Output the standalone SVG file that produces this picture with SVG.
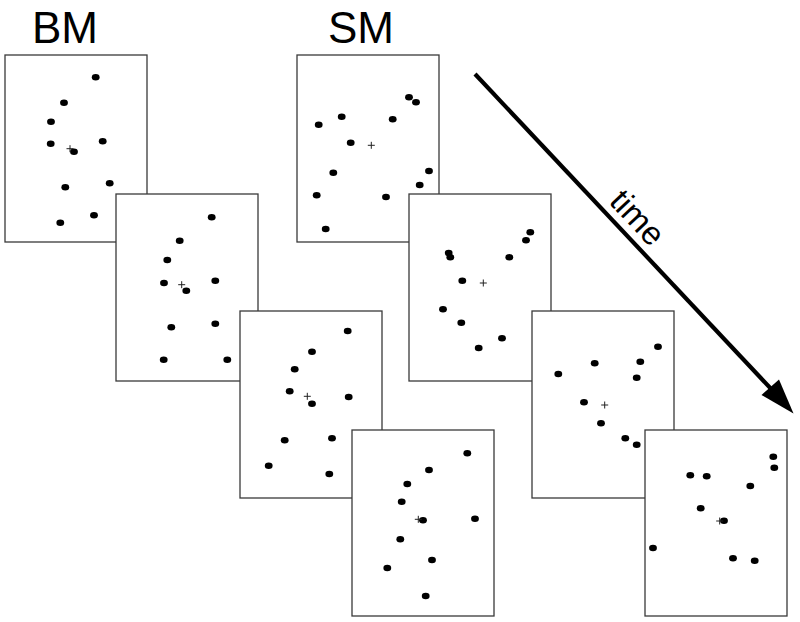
<svg xmlns="http://www.w3.org/2000/svg" width="800" height="622" viewBox="0 0 800 622">
<defs>
<style>
.frame{fill:#fff;stroke:#3a3a3a;stroke-width:1.3}
.dot{fill:#000}
.fix{stroke:#222;stroke-width:1;fill:none}
.lbl{font-family:"Liberation Sans",Arial,sans-serif;font-size:44px;fill:#000}
.time{font-family:"Liberation Sans",Arial,sans-serif;font-size:33px;fill:#000}
</style>
<ellipse id="d" class="dot" cx="0" cy="0" rx="3.9" ry="3.2"/>
<path id="c" class="fix" d="M-3.5 0H3.5M0 -3.5V3.5"/>
</defs>
<rect width="800" height="622" fill="#fff"/>
<text class="lbl" x="32" y="43">BM</text>
<text class="lbl" x="328" y="43">SM</text>

<g id="bm1">
<rect class="frame" x="5" y="55" width="142" height="187"/>
<use href="#d" x="95.7" y="77.3"/><use href="#d" x="64" y="102.7"/><use href="#d" x="51" y="121.7"/>
<use href="#d" x="50.7" y="143.7"/><use href="#d" x="102.7" y="141.3"/><use href="#d" x="74" y="151.7"/>
<use href="#c" x="70" y="148.7"/>
<use href="#d" x="65.3" y="187.3"/><use href="#d" x="109.7" y="183.3"/><use href="#d" x="94" y="215.3"/>
<use href="#d" x="60.3" y="222.7"/>
</g>
<g id="bm2">
<rect class="frame" x="116" y="194" width="142" height="187"/>
<use href="#d" x="211.7" y="217.3"/><use href="#d" x="179.7" y="240.7"/><use href="#d" x="167.3" y="260"/>
<use href="#d" x="164" y="283"/><use href="#d" x="215.3" y="280.7"/><use href="#d" x="186.3" y="290.7"/>
<use href="#c" x="181.7" y="284.7"/>
<use href="#d" x="171.3" y="327.3"/><use href="#d" x="215.3" y="323.7"/><use href="#d" x="163.7" y="359.7"/>
<use href="#d" x="227.3" y="359.7"/>
</g>
<g id="bm3">
<rect class="frame" x="240" y="311" width="142" height="187"/>
<use href="#d" x="347.7" y="331"/><use href="#d" x="312" y="351.7"/><use href="#d" x="294.7" y="369.3"/>
<use href="#d" x="289.7" y="391.3"/><use href="#d" x="348.7" y="397"/><use href="#d" x="312" y="403.7"/>
<use href="#c" x="307.3" y="396.3"/>
<use href="#d" x="284.7" y="440.3"/><use href="#d" x="332" y="438.3"/><use href="#d" x="268.7" y="465.7"/>
<use href="#d" x="329.3" y="474"/>
</g>
<g id="bm4">
<rect class="frame" x="352" y="430" width="142" height="186"/>
<use href="#d" x="467.3" y="453.3"/><use href="#d" x="429" y="470"/><use href="#d" x="407.3" y="484"/>
<use href="#d" x="401.7" y="501.7"/><use href="#d" x="475" y="518.7"/><use href="#d" x="423" y="520.3"/>
<use href="#c" x="418.3" y="519.3"/>
<use href="#d" x="400.3" y="539.3"/><use href="#d" x="432" y="560"/><use href="#d" x="387.3" y="568"/>
<use href="#d" x="425.7" y="596"/>
</g>

<g id="sm1">
<rect class="frame" x="297" y="55" width="142" height="187"/>
<use href="#d" x="409" y="97.3"/><use href="#d" x="416" y="102.3"/><use href="#d" x="341.7" y="116.7"/>
<use href="#d" x="318.7" y="124.7"/><use href="#d" x="392.7" y="119.3"/><use href="#d" x="350.7" y="142.7"/>
<use href="#c" x="371.3" y="145.3"/>
<use href="#d" x="333.3" y="172.7"/><use href="#d" x="429" y="171"/><use href="#d" x="419.7" y="185"/>
<use href="#d" x="316.7" y="195.3"/><use href="#d" x="386" y="197"/><use href="#d" x="325.7" y="229"/>
</g>
<g id="sm2">
<rect class="frame" x="409" y="194" width="142" height="187"/>
<use href="#d" x="530.3" y="232.3"/><use href="#d" x="526" y="240.3"/><use href="#d" x="448.7" y="253"/>
<use href="#d" x="450.3" y="257.3"/><use href="#d" x="509.3" y="257.3"/><use href="#d" x="462.3" y="280.7"/>
<use href="#c" x="483.3" y="283"/>
<use href="#d" x="443" y="309.3"/><use href="#d" x="461.3" y="322.7"/><use href="#d" x="502" y="338.3"/>
<use href="#d" x="478.7" y="348"/>
</g>
<g id="sm3">
<rect class="frame" x="532" y="311" width="142" height="187"/>
<use href="#d" x="658" y="346.7"/><use href="#d" x="640.3" y="361.7"/><use href="#d" x="594.7" y="363.3"/>
<use href="#d" x="558.3" y="374"/><use href="#d" x="636.7" y="377.7"/><use href="#d" x="584" y="402.3"/>
<use href="#c" x="604.7" y="405"/>
<use href="#d" x="601" y="423.3"/><use href="#d" x="625.3" y="438.3"/><use href="#d" x="636.7" y="444.7"/>
</g>
<g id="sm4">
<rect class="frame" x="645" y="430" width="142" height="186"/>
<use href="#d" x="773.3" y="456.7"/><use href="#d" x="774.3" y="467.7"/><use href="#d" x="690.3" y="475.3"/>
<use href="#d" x="706.7" y="476.3"/><use href="#d" x="750.3" y="486"/><use href="#d" x="700.7" y="508.3"/>
<use href="#d" x="724" y="520.7"/><use href="#c" x="719.7" y="521"/>
<use href="#d" x="653" y="548"/><use href="#d" x="733" y="558.3"/><use href="#d" x="754.7" y="560.7"/>
</g>

<g id="connectors">
<line x1="475" y1="74" x2="774" y2="392" stroke="#000" stroke-width="4.2"/>
<polygon points="793.5,413.5 761.5,395 779,379.5" fill="#000"/>
<g transform="translate(475,74) rotate(46.8)">
<text class="time" x="216" y="-9" text-anchor="middle">time</text>
</g>
</g>
</svg>
